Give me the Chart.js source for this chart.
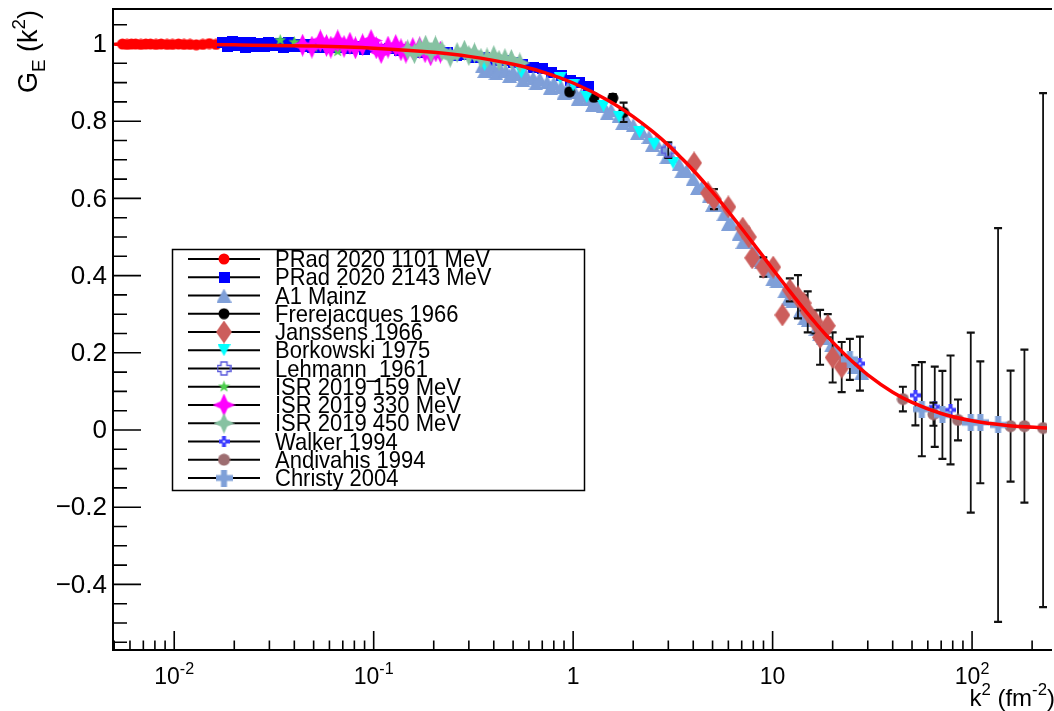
<!DOCTYPE html>
<html><head><meta charset="utf-8">
<script src="https://cdn.jsdelivr.net/npm/chart.js@4.4.0/dist/chart.umd.min.js"></script>
<style>html,body{margin:0;padding:0;background:#fff;overflow:hidden}canvas{display:block}</style>
</head><body>
<canvas id="c" width="1054" height="711"></canvas>
<script>
// ---------------- data (k^2 in fm^-2, G_E) ----------------
const fitX = [0.005,0.01,0.02,0.05,0.1,0.2,0.3,0.5,0.7,1,1.5,2,2.5,3,3.5,4,5,6,7,8,9,10,12,14,17,20,25,30,40,50,70,100,150,240];
const fitY = [0.9995,0.9989,0.9978,0.9946,0.9891,0.9784,0.968,0.9475,0.928,0.899,0.8539,0.812,0.7735,0.738,0.704,0.673,0.616,0.566,0.522,0.483,0.4485,0.417,0.364,0.3202,0.268,0.2276,0.178,0.143,0.098,0.0715,0.0428,0.0238,0.0118,0.005];

const prad1101X = [0.0055,0.0058,0.0061,0.0064,0.0068,0.0072,0.0076,0.0081,0.0086,0.0092,0.0098,0.0105,0.0112,0.0120,0.0129,0.0139,0.0150,0.0162];
const prad1101Y = [1.000,0.999,1.000,1.000,0.999,1.000,1.000,0.999,1.000,0.999,0.999,1.000,0.999,0.999,0.998,0.999,1.001,0.999];

const prad2143X = [0.0175,0.0185,0.0195,0.0205,0.0216,0.0228,0.024,0.0253,0.0267,0.0282,0.0298,0.0315,0.0333,0.0352,0.0372,0.0394,0.0417,0.0441,0.0467,0.0495,0.0525,0.056,0.06,0.065,0.07,0.076,0.083,0.09,0.1,0.11,0.12,0.135,0.15,0.17,0.19,0.21,0.235,0.26,0.29,0.32,0.36,0.4,0.45,0.5,0.56,0.63,0.7,0.78,0.87,0.97,1.08,1.2];
const prad2143Y = [1.004,0.993,1.006,0.995,1.003,0.992,1.005,0.994,1.002,0.993,1.004,0.995,1.001,0.992,1.003,0.994,1.000,0.993,0.999,0.991,0.998,0.991,0.997,0.990,0.995,0.989,0.993,0.987,0.991,0.985,0.988,0.983,0.985,0.979,0.982,0.977,0.977,0.971,0.972,0.966,0.966,0.958,0.958,0.951,0.948,0.939,0.936,0.926,0.919,0.906,0.900,0.889];

const a1X = [0.35,0.36,0.38,0.4,0.41,0.43,0.46,0.48,0.5,0.54,0.56,0.58,0.63,0.65,0.68,0.74,0.77,0.8,0.87,0.9,0.94,1.02,1.06,1.1,1.2,1.25,1.3,1.42,1.48,1.55,1.7,1.77,1.85,2.0,2.1,2.2,2.4,2.5,2.6,2.85,2.95,3.1,3.4,3.5,3.7,4.0,4.2,4.4,4.8,5.0,5.2,5.7,6.0,6.2,6.8,7.1,7.4,8.1,8.4,8.8,9.6,10,10.5,11.5,12,12.6,13.8,14.5,15.1,16.5,17.2,18,19.7,20.5,21.5,23.5,25.7,28];
const a1Y = [0.942,0.93,0.938,0.936,0.924,0.937,0.93,0.917,0.928,0.922,0.906,0.92,0.912,0.898,0.91,0.901,0.887,0.899,0.889,0.874,0.884,0.876,0.858,0.869,0.858,0.842,0.851,0.84,0.82,0.829,0.814,0.795,0.803,0.79,0.769,0.775,0.759,0.739,0.746,0.727,0.707,0.709,0.689,0.67,0.671,0.651,0.627,0.627,0.605,0.583,0.584,0.559,0.534,0.536,0.509,0.487,0.486,0.46,0.44,0.435,0.411,0.39,0.385,0.359,0.34,0.334,0.309,0.29,0.285,0.261,0.248,0.239,0.219,0.207,0.199,0.18,0.163,0.148];

const frereX = [0.96,1.27,1.58,1.79];
const frereY = [0.876,0.862,0.86,0.823];
const frereE = [0.008,0.008,0.01,0.025];

const janssensX = [4.04,4.75,5.08,6.0,7.08,7.6,7.9,8.98,10.07,11.2,12.2,13.4,14.3,15.0,16.4,17.3,18.9,20.0,22.2];
const janssensY = [0.692,0.614,0.598,0.578,0.523,0.5,0.446,0.422,0.422,0.298,0.363,0.345,0.329,0.306,0.28,0.24,0.27,0.188,0.163];
const janssensE = [0.004,0.004,0.026,0.004,0.004,0.006,0.004,0.025,0.005,0.005,0.03,0.056,0.02,0.053,0.03,0.071,0.03,0.065,0.065];

const borkX = [0.36,0.55,0.86,1.0,1.17,1.42,1.7,2.15,2.55,3.17];
const borkY = [0.946,0.927,0.912,0.893,0.863,0.84,0.812,0.772,0.74,0.692];

const lehmannX = [3.0];
const lehmannY = [0.725];
const lehmannE = [0.02];

const isr159X = [0.034,0.040,0.050,0.066];
const isr159Y = [1.010,1.005,0.992,0.981];

const isr330X = [0.044,0.049,0.054,0.058,0.061,0.066,0.071,0.076,0.081,0.088,0.097,0.103,0.109,0.118,0.129,0.137,0.145,0.157,0.17,0.181,0.193,0.205,0.216];
const isr330Y = [0.997,0.992,1.008,0.996,0.992,1.008,0.994,1.002,0.99,0.998,1.009,0.99,0.978,0.992,0.996,0.985,0.979,0.988,0.99,0.98,0.972,0.982,0.979];

const isr450X = [0.148,0.16,0.17,0.182,0.194,0.204,0.22,0.242,0.262,0.285,0.3,0.32,0.345,0.37,0.4,0.425,0.455,0.49,0.54];
const isr450Y = [0.985,0.975,0.99,0.997,0.978,0.995,0.982,0.966,0.978,0.984,0.97,0.977,0.963,0.964,0.97,0.958,0.962,0.96,0.951];

const walkerX = [27.4,52,65,78];
const walkerY = [0.172,0.09,0.06,0.052];
const walkerE = [0.07,0.078,0.104,0.141];

const andivX = [45,64,85,156,183,227];
const andivY = [0.08,0.041,0.026,0.01,0.01,0.005];
const andivEUp = [0.032,0.03,0.053,0.144,0.198,0.868];
const andivEDn = [0.032,0.03,0.053,0.144,0.198,0.464];

const christyX = [24.4,56,71,98.5,110,135];
const christyY = [0.183,0.054,0.039,0.019,0.02,0.013];
const christyE = [0.053,0.122,0.114,0.233,0.158,0.51];

const legendNames = ['PRad 2020 1101 MeV','PRad 2020 2143 MeV','A1 Mainz','Frerejacques 1966','Janssens 1966','Borkowski 1975','Lehmann_1961','ISR 2019 159 MeV','ISR 2019 330 MeV','ISR 2019 450 MeV','Walker 1994','Andivahis 1994','Christy 2004'];

const yTickVals = [-0.4,-0.2,0,0.2,0.4,0.6,0.8,1];
const yTickLabels = ['\u22120.4','\u22120.2','0','0.2','0.4','0.6','0.8','1'];
const xTickVals = [0.01,0.1,1,10,100];
const xTickBase = ['10','10','1','10','10'];
const xTickExp = ['-2','-1','','','2'];

const X_MIN = 0.004932, X_MAX = 237.5, Y_MIN = -0.570, Y_MAX = 1.0907;

// ---------------- marker images ----------------
function mk(w, h, fn){ const c=document.createElement('canvas'); c.width=w; c.height=h; const g=c.getContext('2d'); fn(g,w/2,h/2,w,h); return c; }
const M = {
  redCircle: mk(12,12,(g,cx,cy)=>{g.fillStyle='#ff0000';g.beginPath();g.arc(cx,cy,5.5,0,Math.PI*2);g.fill();}),
  blueSquare: mk(11,11,(g)=>{g.fillStyle='#0000ff';g.fillRect(0,0,11,11);}),
  a1Tri: mk(15,14,(g,cx,cy,w,h)=>{g.fillStyle='#7f9fd8';g.beginPath();g.moveTo(cx,0);g.lineTo(w,h);g.lineTo(0,h);g.closePath();g.fill();}),
  blackCircle: mk(12,12,(g,cx,cy)=>{g.fillStyle='#000';g.beginPath();g.arc(cx,cy,5.5,0,Math.PI*2);g.fill();}),
  diamond: mk(16,23,(g,cx,cy,w,h)=>{g.fillStyle='#cc5e5c';g.beginPath();g.moveTo(cx,0);g.lineTo(w,cy);g.lineTo(cx,h);g.lineTo(0,cy);g.closePath();g.fill();}),
  cyanTri: mk(13,12,(g,cx,cy,w,h)=>{g.fillStyle='#00ffff';g.beginPath();g.moveTo(0,0);g.lineTo(w,0);g.lineTo(cx,h);g.closePath();g.fill();}),
  openCross: mk(15,15,(g)=>{g.strokeStyle='#5b5bdc';g.lineWidth=1.5;const a=4.5,b=10.5,e=1,f=14;g.beginPath();g.moveTo(a,e);g.lineTo(b,e);g.lineTo(b,a);g.lineTo(f,a);g.lineTo(f,b);g.lineTo(b,b);g.lineTo(b,f);g.lineTo(a,f);g.lineTo(a,b);g.lineTo(e,b);g.lineTo(e,a);g.lineTo(a,a);g.closePath();g.stroke();}),
  greenStar: mk(13,13,(g,cx,cy)=>{g.fillStyle='#4dcf4d';g.beginPath();for(let i=0;i<10;i++){const r=i%2?2.6:6.3;const t=-Math.PI/2+i*Math.PI/5;g.lineTo(cx+r*Math.cos(t),cy+r*Math.sin(t));}g.closePath();g.fill();}),
  magStar: mk(23,23,(g,cx,cy)=>{g.fillStyle='#ff00ff';const r=11.5,q=3.6;g.beginPath();g.moveTo(cx,cy-r);g.lineTo(cx+q,cy-q);g.lineTo(cx+r,cy);g.lineTo(cx+q,cy+q);g.lineTo(cx,cy+r);g.lineTo(cx-q,cy+q);g.lineTo(cx-r,cy);g.lineTo(cx-q,cy-q);g.closePath();g.fill();}),
  greyStar: mk(21,21,(g,cx,cy)=>{g.fillStyle='#86c2a2';const r=10.5,q=3.2;g.beginPath();g.moveTo(cx,cy-r);g.lineTo(cx+q,cy-q);g.lineTo(cx+r,cy);g.lineTo(cx+q,cy+q);g.lineTo(cx,cy+r);g.lineTo(cx-q,cy+q);g.lineTo(cx-r,cy);g.lineTo(cx-q,cy-q);g.closePath();g.fill();}),
  walkerPlus: mk(11,11,(g)=>{g.fillStyle='#3c3cff';g.fillRect(3.5,0,4,11);g.fillRect(0,3.5,11,4);g.fillStyle='#fff';g.fillRect(4.5,4.5,2,2);}),
  andivCircle: mk(13,13,(g,cx,cy)=>{g.fillStyle='#9d6d70';g.beginPath();g.arc(cx,cy,6,0,Math.PI*2);g.fill();}),
  christyPlus: mk(17,17,(g)=>{g.fillStyle='#7fa0d8';g.fillRect(5.5,0,6,17);g.fillRect(0,5.5,17,6);})
};

function pts(xs, ys){ return xs.map((x,i)=>({x:x, y:ys[i]})); }
function sds(label, xs, ys, style, order, eu, ed){
  return {label, data: pts(xs,ys), showLine:false, pointStyle: style, pointRadius: 6, pointHoverRadius: 6, order, errUp: eu||null, errDn: ed||eu||null};
}

const datasets = [
  {label:'fit', data: pts(fitX, fitY), showLine:true, pointRadius:0, borderColor:'#ff0000', borderWidth:3.5, cubicInterpolationMode:'monotone', order:0},
  sds(legendNames[0], prad1101X, prad1101Y, M.redCircle, 13),
  sds(legendNames[1], prad2143X, prad2143Y, M.blueSquare, 12),
  sds(legendNames[2], a1X, a1Y, M.a1Tri, 11),
  sds(legendNames[3], frereX, frereY, M.blackCircle, 10, frereE),
  sds(legendNames[4], janssensX, janssensY, M.diamond, 9, janssensE),
  sds(legendNames[5], borkX, borkY, M.cyanTri, 8),
  sds(legendNames[6], lehmannX, lehmannY, M.openCross, 7, lehmannE),
  sds(legendNames[7], isr159X, isr159Y, M.greenStar, 6),
  sds(legendNames[8], isr330X, isr330Y, M.magStar, 5),
  sds(legendNames[9], isr450X, isr450Y, M.greyStar, 4),
  sds(legendNames[10], walkerX, walkerY, M.walkerPlus, 3, walkerE),
  sds(legendNames[11], andivX, andivY, M.andivCircle, 2, andivEUp, andivEDn),
  sds(legendNames[12], christyX, christyY, M.christyPlus, 1, christyE)
];
const legendMarkers = [M.redCircle,M.blueSquare,M.a1Tri,M.blackCircle,M.diamond,M.cyanTri,M.openCross,M.greenStar,M.magStar,M.greyStar,M.walkerPlus,M.andivCircle,M.christyPlus];

const FONT = '"Liberation Sans", Arial, Helvetica, sans-serif';
function rich(ctx, parts, x, y, size, align){
  let w=0; const ws=[];
  for(const p of parts){ ctx.font=(p[1]?size*0.7:size)+'px '+FONT; const m=ctx.measureText(p[0]).width; ws.push(m); w+=m; }
  let cx = align==='center'? x-w/2 : align==='right'? x-w : x;
  parts.forEach((p,i)=>{ ctx.font=(p[1]?size*0.7:size)+'px '+FONT; const dy = p[1]===1? -size*0.45 : p[1]===-1? size*0.28 : 0; ctx.fillText(p[0], cx, y+dy); cx+=ws[i]; });
  return w;
}

const errorBars = {
  id:'errorBars',
  beforeDatasetDraw(chart, args){
    const ds = chart.data.datasets[args.index];
    if(!ds.errUp) return;
    const ctx=chart.ctx, ys=chart.scales.y, a=chart.chartArea;
    ctx.save(); ctx.beginPath(); ctx.rect(a.left,a.top,a.right-a.left,a.bottom-a.top); ctx.clip();
    ctx.strokeStyle='#111';
    args.meta.data.forEach((el,j)=>{
      const d=ds.data[j], up=ds.errUp[j], dn=ds.errDn[j];
      const y1=ys.getPixelForValue(d.y+up), y2=ys.getPixelForValue(d.y-dn);
      ctx.lineWidth=1.8; ctx.beginPath(); ctx.moveTo(el.x,y1); ctx.lineTo(el.x,y2); ctx.stroke();
      ctx.lineWidth=2.2; ctx.beginPath(); ctx.moveTo(el.x-4,y1); ctx.lineTo(el.x+4,y1); ctx.moveTo(el.x-4,y2); ctx.lineTo(el.x+4,y2); ctx.stroke();
    });
    ctx.restore();
  }
};

const rootAxes = {
  id:'rootAxes',
  beforeDatasetsDraw(chart){
    const ctx=chart.ctx, a=chart.chartArea, xs=chart.scales.x, ys=chart.scales.y;
    ctx.save();
    ctx.strokeStyle='#000'; ctx.lineWidth=2;
    ctx.beginPath();
    ctx.moveTo(a.right+5, a.top); ctx.lineTo(a.left, a.top); ctx.lineTo(a.left, a.bottom); ctx.lineTo(a.right+5, a.bottom);
    ctx.stroke();
    ctx.lineWidth=1.6;
    ctx.beginPath();
    for(let k=-11;k<=21;k++){
      const v=k*0.05; const py=ys.getPixelForValue(v);
      if(py<a.top+1||py>a.bottom-1) continue;
      const L = (k%4===0)? 28 : 14;
      ctx.moveTo(a.left, py); ctx.lineTo(a.left+L, py);
    }
    for(let e=-3;e<=2;e++){
      for(let m=1;m<=9;m++){
        const v=m*Math.pow(10,e); if(v<X_MIN||v>X_MAX) continue;
        const px=xs.getPixelForValue(v); const L=(m===1)?19:9.5;
        ctx.moveTo(px, a.bottom); ctx.lineTo(px, a.bottom-L);
      }
    }
    ctx.stroke();
    ctx.fillStyle='#000'; ctx.textBaseline='middle'; ctx.textAlign='right';
    ctx.font='26px '+FONT;
    yTickVals.forEach((v,i)=>{ ctx.fillText(yTickLabels[i], 107, ys.getPixelForValue(v)+1); });
    ctx.textBaseline='alphabetic'; ctx.textAlign='left';
    xTickVals.forEach((v,i)=>{
      const parts=[[xTickBase[i],0]]; if(xTickExp[i]) parts.push([xTickExp[i],1]);
      rich(ctx, parts, xs.getPixelForValue(v), 684, 23, 'center');
    });
    rich(ctx, [['k',0],['2',1],[' (fm',0],['-2',1],[')',0]], 1055, 706, 24, 'right');
    ctx.save(); ctx.translate(37, 10); ctx.rotate(-Math.PI/2);
    rich(ctx, [['G',0],['E',-1],[' (k',0],['2',1],[')',0]], 0, 0, 27, 'right');
    ctx.restore();
    ctx.restore();
  },
  afterDraw(chart){
    const ctx=chart.ctx;
    ctx.save();
    const L=172, T=249, R=584, B=490;
    ctx.fillStyle='#fff'; ctx.fillRect(L,T,R-L,B-T);
    ctx.strokeStyle='#000'; ctx.lineWidth=1.5; ctx.strokeRect(L+0.5,T+0.5,R-L,B-T);
    ctx.textBaseline='alphabetic'; ctx.textAlign='left'; ctx.font='22px '+FONT; ctx.fillStyle='#000';
    legendNames.forEach((name,i)=>{
      const cy = 259 + i*18.25;
      ctx.lineWidth=2; ctx.beginPath(); ctx.moveTo(188,cy); ctx.lineTo(260,cy); ctx.stroke();
      const im=legendMarkers[i]; ctx.drawImage(im, 224-im.width/2, cy-im.height/2);
      ctx.save(); ctx.translate(275, cy+8); ctx.scale(1, 1.1); ctx.fillText(name, 0, 0); ctx.restore();
    });
    ctx.restore();
  }
};

new Chart(document.getElementById('c'), {
  type:'scatter',
  data:{datasets},
  options:{
    responsive:false, animation:false, devicePixelRatio:1,
    layout:{padding:{left:113, top:9, right:0, bottom:61}},
    scales:{
      x:{type:'logarithmic', min:X_MIN, max:X_MAX, display:false},
      y:{type:'linear', min:Y_MIN, max:Y_MAX, display:false}
    },
    plugins:{legend:{display:false}, tooltip:{enabled:false}}
  },
  plugins:[errorBars, rootAxes]
});
</script>
</body></html>
